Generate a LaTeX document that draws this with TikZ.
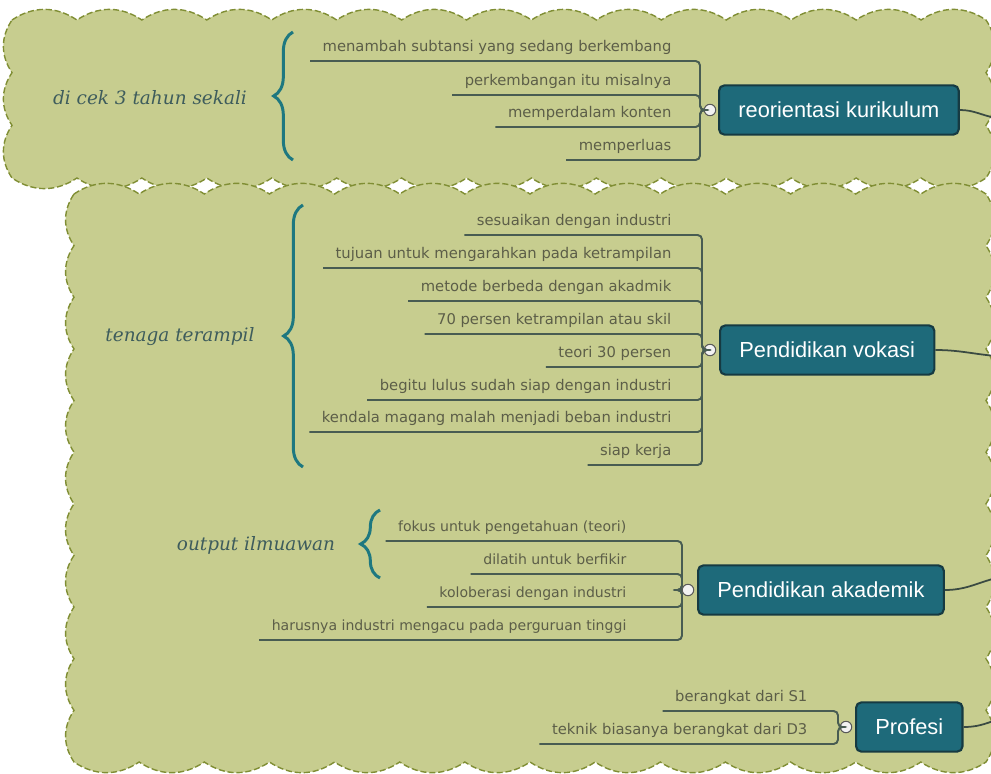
\documentclass[tikz,border=0pt]{standalone}
\usepackage{fontspec}
\setmainfont{DejaVu Sans}
\newfontfamily\boxfont{Liberation Sans}
\newfontfamily\notefont{DejaVu Serif}
\usetikzlibrary{decorations.pathreplacing}

\definecolor{cloudfill}{RGB}{199,205,143}
\definecolor{clouddash}{RGB}{128,142,52}
\definecolor{topicfill}{RGB}{30,106,122}
\definecolor{topicline}{RGB}{22,58,66}
\definecolor{leaftext}{RGB}{92,94,72}
\definecolor{branchline}{RGB}{72,92,82}
\definecolor{bracecol}{RGB}{30,120,128}
\definecolor{notetext}{RGB}{62,92,92}

% scalloped area: x0, y0, x1, y1, bumps across, bumps down
\newcommand{\cloudbox}[6]{%
  \pgfmathsetmacro{\cdx}{(#3-#1)/#5}%
  \pgfmathsetmacro{\cdy}{(#4-#2)/#6}%
  \filldraw[cloud] (#1,#2)
    \foreach \i in {1,...,#5}{to[bend left=34] ++(\cdx,0)}
    \foreach \i in {1,...,#6}{to[bend left=34] ++(0,\cdy)}
    \foreach \i in {1,...,#5}{to[bend left=34] ++(-\cdx,0)}
    \foreach \i in {1,...,#6}{to[bend left=34] ++(0,-\cdy)}
    -- cycle;
}

\tikzset{
  cloud/.style={fill=cloudfill, draw=clouddash, line width=0.8pt, dash pattern=on 3.5pt off 1.6pt},
  topic/.style={rectangle, rounded corners=3pt, fill=topicfill, draw=topicline, line width=1.2pt,
    text=white, font=\fontsize{12.4}{14}\boxfont, minimum height=28pt, inner xsep=11pt, anchor=west},
  leaf/.style={text=leaftext, font=\fontsize{8.4}{10}\selectfont, inner xsep=7pt, inner ysep=3pt,
    text height=1.5ex, text depth=.4ex, anchor=south east},
  knob/.style={circle, draw=gray!70!black, fill=gray!10, line width=0.6pt, minimum size=6.5pt, inner sep=0pt},
  branch/.style={draw=branchline, line width=1.1pt, rounded corners=2.5pt},
  trunk/.style={draw=branchline!80!black, line width=1pt},
  note/.style={text=notetext, font=\fontsize{10.5}{12}\notefont\itshape},
  curly/.style={draw=bracecol, line width=1.7pt, decorate, decoration={brace, amplitude=11pt}},
}

\begin{document}
\begin{tikzpicture}[x=0.02cm, y=-0.02cm]
  \useasboundingbox (0,0) rectangle (991,774);

  % latar awan
  \cloudbox{12}{20}{986}{178}{15}{3}
  \cloudbox{74}{194}{986}{762}{14}{11}

  % reorientasi kurikulum
  \node[topic] (R1) at (718,110) {reorientasi kurikulum};
  \node[knob] (c1) at (710,110) {};
  \coordinate (s1) at (700,0);
  \node[leaf] (a1) at (684,61) {menambah subtansi yang sedang berkembang};
  \node[leaf] (a2) at (684,95) {perkembangan itu misalnya};
  \node[leaf] (a3) at (684,127) {memperdalam konten};
  \node[leaf] (a4) at (684,160) {memperluas};
  \foreach \k in {a1,a2,a3,a4}
    \draw[branch] (\k.south west) -- (\k.south east -| s1) |- (c1.west);
  \draw[curly] (293,160) -- (293,32);
  \node[note] (n1) at (150,98) {di cek 3 tahun sekali};

  % Pendidikan vokasi
  \node[topic] (R2) at (719,350) {Pendidikan vokasi};
  \node[knob] (c2) at (710,350) {};
  \coordinate (s2) at (702,0);
  \node[leaf] (b1) at (684,235) {sesuaikan dengan industri};
  \node[leaf] (b2) at (684,268) {tujuan untuk mengarahkan pada ketrampilan};
  \node[leaf] (b3) at (684,301) {metode berbeda dengan akadmik};
  \node[leaf] (b4) at (684,334) {70 persen ketrampilan atau skil};
  \node[leaf] (b5) at (684,367) {teori 30 persen};
  \node[leaf] (b6) at (684,400) {begitu lulus sudah siap dengan industri};
  \node[leaf] (b7) at (684,432) {kendala magang malah menjadi beban industri};
  \node[leaf] (b8) at (684,465) {siap kerja};
  \foreach \k in {b1,b2,b3,b4,b5,b6,b7,b8}
    \draw[branch] (\k.south west) -- (\k.south east -| s2) |- (c2.west);
  \draw[curly] (303,467) -- (303,205);
  \node[note] (n2) at (180,337) {tenaga terampil};

  % Pendidikan akademik
  \node[topic] (R3) at (697,590) {Pendidikan akademik};
  \node[knob] (c3) at (688,590) {};
  \coordinate (s3) at (682,0);
  \node[leaf, font=\fontsize{8}{10}\selectfont] (d1) at (639,541) {fokus untuk pengetahuan (teori)};
  \node[leaf, font=\fontsize{8}{10}\selectfont] (d2) at (639,574) {dilatih untuk berfikir};
  \node[leaf, font=\fontsize{8}{10}\selectfont] (d3) at (639,607) {koloberasi dengan industri};
  \node[leaf, font=\fontsize{8}{10}\selectfont] (d4) at (639,640) {harusnya industri mengacu pada perguruan tinggi};
  \foreach \k in {d1,d2,d3,d4}
    \draw[branch] (\k.south west) -- (\k.south east -| s3) |- (c3.west);
  \draw[curly] (380,578) -- (380,510);
  \node[note] (n3) at (256,545) {output ilmuawan};

  % Profesi
  \node[topic] (R4) at (855,727) {Profesi};
  \node[knob] (c4) at (846,727) {};
  \coordinate (s4) at (838,0);
  \node[leaf] (p1) at (820,711) {berangkat dari S1};
  \node[leaf] (p2) at (820,744) {teknik biasanya berangkat dari D3};
  \foreach \k in {p1,p2}
    \draw[branch] (\k.south west) -- (\k.south east -| s4) |- (c4.west);

  % ke pusat di kanan
  \coordinate (e1) at (996,118);
  \coordinate (e2) at (996,356);
  \coordinate (e3) at (996,578);
  \coordinate (e4) at (996,720);
  \draw[trunk] (R1.east) to[out=0,in=170] (e1);
  \draw[trunk] (R2.east) to[out=0,in=175] (e2);
  \draw[trunk] (R3.east) to[out=0,in=195] (e3);
  \draw[trunk] (R4.east) to[out=0,in=200] (e4);
\end{tikzpicture}
\end{document}
